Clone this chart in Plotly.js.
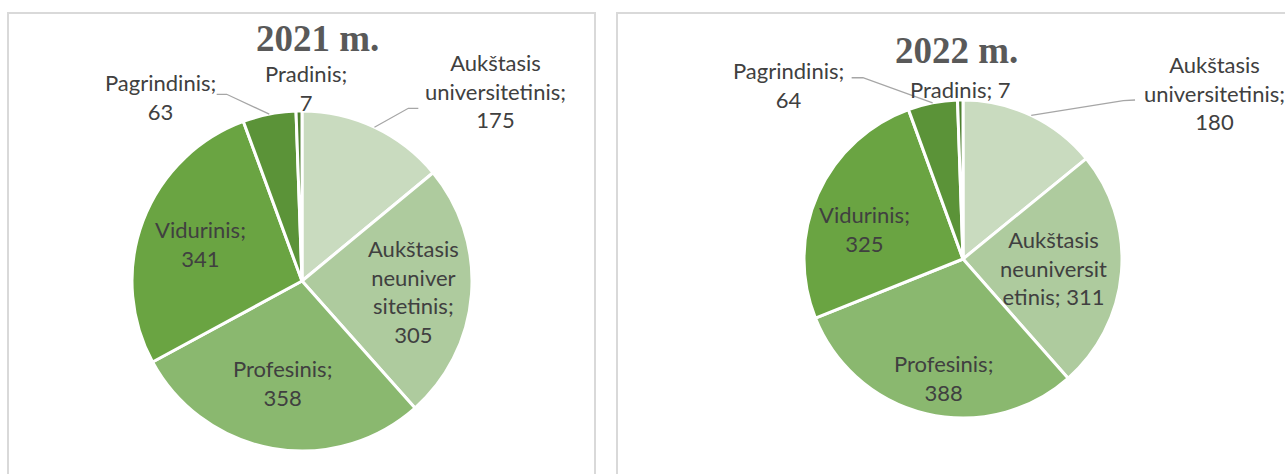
<!DOCTYPE html>
<html>
<head>
<meta charset="utf-8">
<script src="https://cdn.plot.ly/plotly-3.0.1.min.js"></script>
<style>
  html, body { margin: 0; padding: 0; background: #ffffff; }
  #chart { width: 1285px; height: 474px; }
</style>
</head>
<body>
<div id="chart"></div>
<script>
// ---------------- DATA ----------------
const categories = [
  "Aukštasis universitetinis",
  "Aukštasis neuniversitetinis",
  "Profesinis",
  "Vidurinis",
  "Pagrindinis",
  "Pradinis"
];
const values2021 = [175, 305, 358, 341, 63, 7];
const values2022 = [180, 311, 388, 325, 64, 7];
const chartTitles = ["2021 m.", "2022 m."];

// wrapped label texts as shown on the picture
const labelText2021 = ["Aukštasis<br>universitetinis;", "Aukštasis<br>neuniver<br>sitetinis;", "Profesinis;", "Vidurinis;", "Pagrindinis;", "Pradinis;"];
const labelText2022 = ["Aukštasis<br>universitetinis;", "Aukštasis<br>neuniversit<br>etinis;", "Profesinis;", "Vidurinis;", "Pagrindinis;", "Pradinis;"];
const labelSep2021 = ["<br>", "<br>", "<br>", "<br>", "<br>", "<br>"];
const labelSep2022 = ["<br>", " ", "<br>", "<br>", "<br>", " "];

const colors = ["#c9dbbf", "#aecb9e", "#8ab86f", "#6aa442", "#5b9338", "#4c7f2e"];

// ---------------- LAYOUT HELPERS ----------------
const W = 1285, H = 474;
const px = x => x / W;
const py = y => 1 - y / H;

// pie geometry (pixels): center and radius
const pies = [
  { cx: 302, cy: 281, r: 170, values: values2021, text: labelText2021, sep: labelSep2021,
    titlePos: [317, 38],
    // per slice: radial factor k and pixel offset
    lab: [ {k:1, dx:120.6, dy:-36}, {k:0.655, dx:0, dy:2}, {k:0.61, dx:-2, dy:0},
           {k:0.64, dx:0, dy:1.5}, {k:1, dx:-108.3, dy:-16.7}, {k:1, dx:7, dy:-23} ],
    leaders: { 0: [[33.9,-18.9],[43.9,-18.9]], 4: [[-42.6,-19.9],[-52.6,-19.9]] }
  },
  { cx: 963, cy: 259, r: 159, values: values2022, text: labelText2022, sep: labelSep2022,
    titlePos: [956, 50],
    lab: [ {k:1, dx:182.8, dy:-22.4}, {k:0.574, dx:0, dy:1.5}, {k:0.77, dx:8.4, dy:0.4},
           {k:0.65, dx:-4.6, dy:12.2}, {k:1, dx:-143.7, dy:-17.9}, {k:1, dx:0, dy:-10.7} ],
    leaders: { 0: [[92.1,-14.7],[103.8,-15.4]], 4: [[-69.7,-25.2],[-81,-25.2]] }
  }
];

const traces = [];
const annotations = [];
const shapes = [];

// chart frames
shapes.push({ type: "rect", xref: "paper", yref: "paper",
  x0: px(8), x1: px(595), y0: py(500), y1: py(13),
  line: { color: "#d9d9d9", width: 2 }, fillcolor: "rgba(0,0,0,0)" });
shapes.push({ type: "rect", xref: "paper", yref: "paper",
  x0: px(617), x1: px(1300), y0: py(500), y1: py(13),
  line: { color: "#d9d9d9", width: 2 }, fillcolor: "rgba(0,0,0,0)" });

pies.forEach((p, pi) => {
  traces.push({
    type: "pie",
    labels: categories,
    values: p.values,
    sort: false,
    direction: "clockwise",
    rotation: 0,
    textinfo: "none",
    hoverinfo: "none",
    showlegend: false,
    marker: { colors: colors, line: { color: "#ffffff", width: 3 } },
    domain: { x: [px(p.cx - p.r), px(p.cx + p.r)], y: [py(p.cy + p.r), py(p.cy - p.r)] }
  });

  annotations.push({
    xref: "paper", yref: "paper", x: px(p.titlePos[0]), y: py(p.titlePos[1]),
    xanchor: "center", yanchor: "middle", showarrow: false,
    text: "<b>" + chartTitles[pi] + "</b>",
    font: { family: "Liberation Serif, Times New Roman, serif", size: 37, color: "#595959" }
  });

  const total = p.values.reduce((a, b) => a + b, 0);
  let cum = 0;
  p.values.forEach((v, i) => {
    const mid = (cum + v / 2) / total * 2 * Math.PI;
    cum += v;
    const s = Math.sin(mid), c = Math.cos(mid);
    const L = p.lab[i];
    const x = p.cx + p.r * L.k * s + L.dx;
    const y = p.cy - p.r * L.k * c + L.dy;
    annotations.push({
      xref: "paper", yref: "paper", x: px(x), y: py(y),
      xanchor: "center", yanchor: "middle", showarrow: false, align: "center",
      text: p.text[i] + p.sep[i] + v,
      font: { family: "Lato, Carlito, Calibri, sans-serif", size: 22, color: "#404040" }
    });
    if (p.leaders[i]) {
      const rx = p.cx + p.r * s, ry = p.cy - p.r * c;
      const pts = [[rx, ry]].concat(p.leaders[i].map(o => [rx + o[0], ry + o[1]]));
      let path = "M " + pts.map(q => px(q[0]).toFixed(5) + "," + py(q[1]).toFixed(5)).join(" L ");
      shapes.push({ type: "path", xref: "paper", yref: "paper", path: path,
        line: { color: "#a6a6a6", width: 1.3 } });
    }
  });
});

const layout = {
  width: W, height: H,
  margin: { l: 0, r: 0, t: 0, b: 0 },
  paper_bgcolor: "#ffffff",
  plot_bgcolor: "#ffffff",
  showlegend: false,
  annotations: annotations,
  shapes: shapes
};

Plotly.newPlot("chart", traces, layout, { staticPlot: true, displayModeBar: false });
</script>
</body>
</html>
